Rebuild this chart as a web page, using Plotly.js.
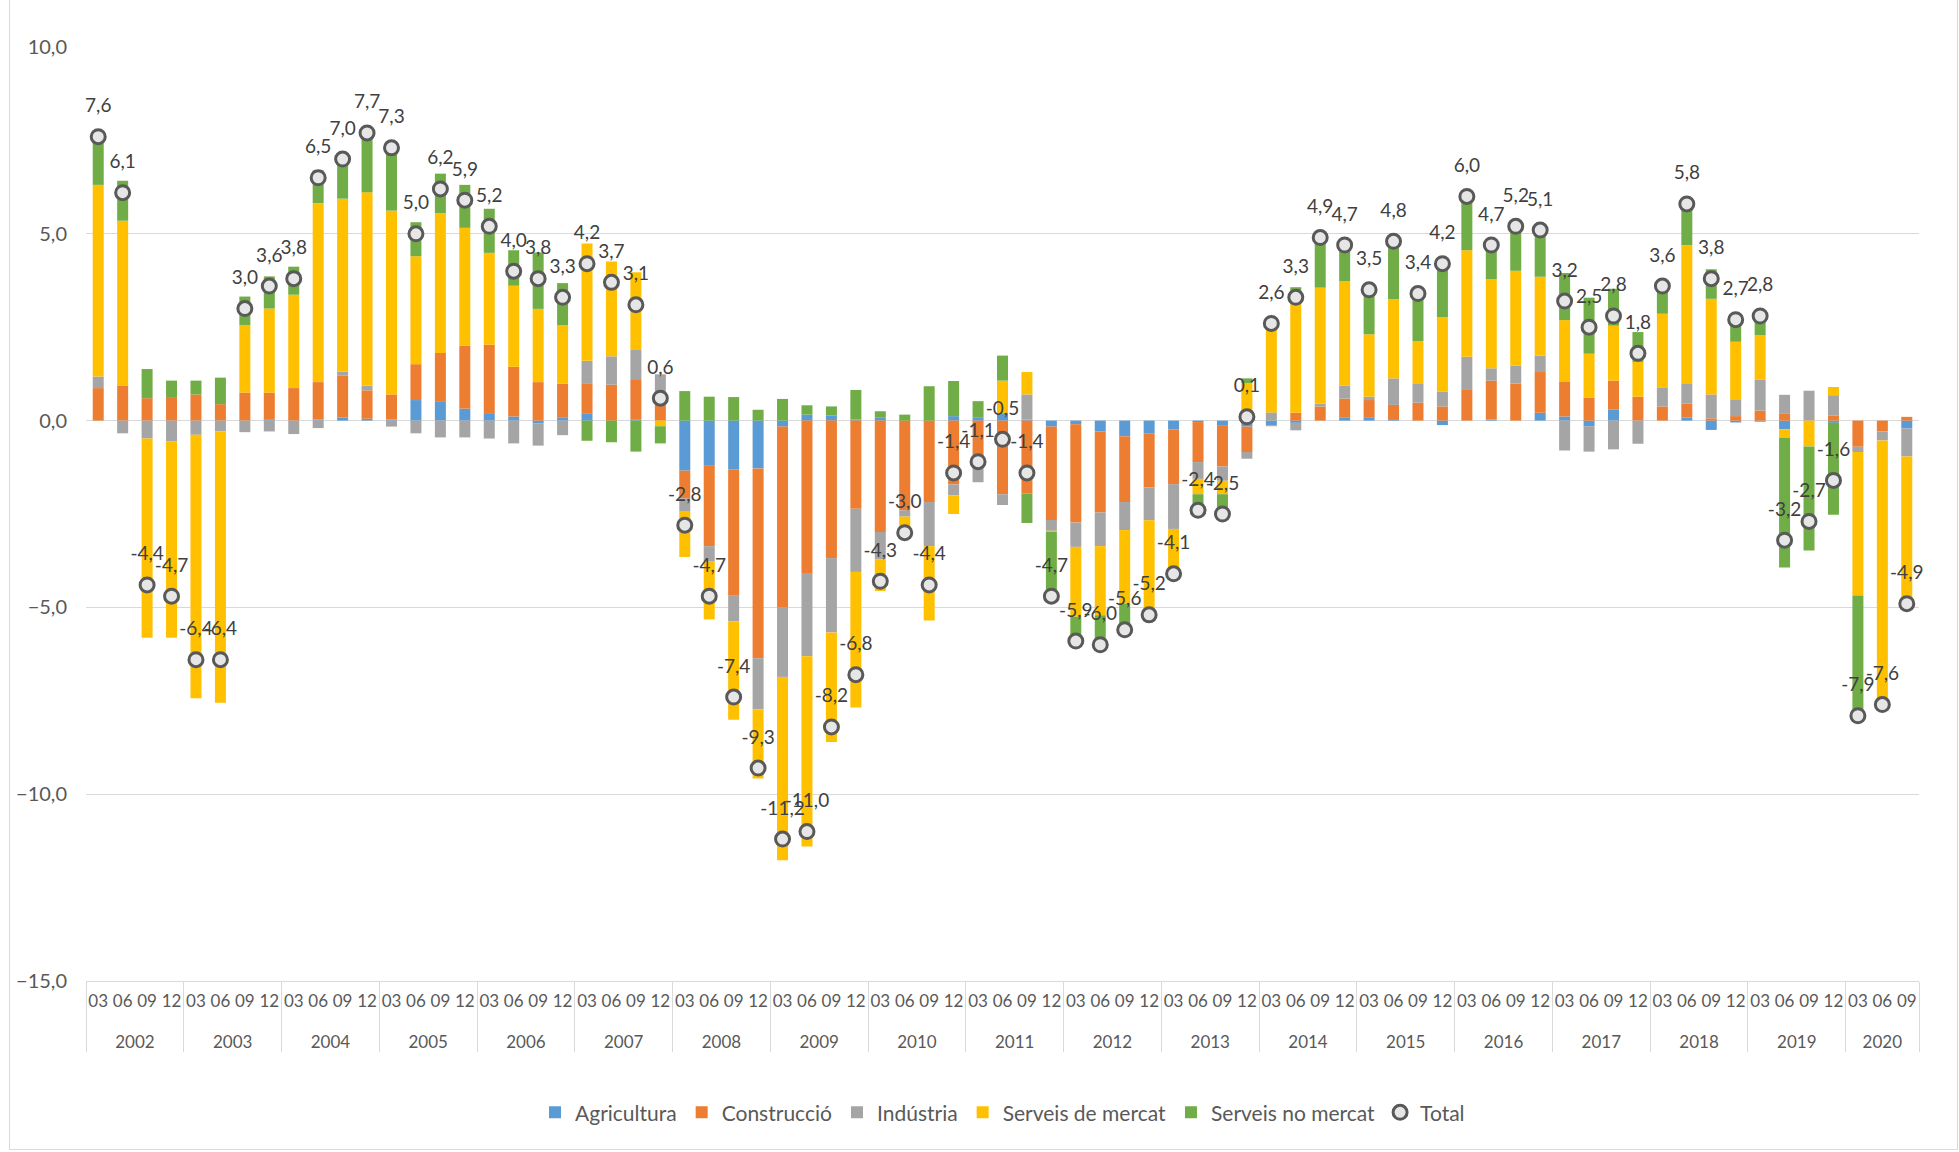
<!DOCTYPE html>
<html>
<head>
<meta charset="utf-8">
<script src="https://cdn.plot.ly/plotly-3.0.1.min.js"></script>
<style>
  html, body { margin: 0; padding: 0; background: #ffffff; }
  #chart { width: 1959px; height: 1152px; }
  #frame { position: absolute; left: 9px; top: -1px; width: 1949px; height: 1151px; border: 1px solid #d9d9d9; pointer-events: none; box-sizing: border-box; }
</style>
</head>
<body>
<div id="chart"></div>
<div id="frame"></div>
<script>
// ---- data (contributions in percentage points) ----
const years = ['2002','2003','2004','2005','2006','2007','2008','2009','2010','2011','2012','2013','2014','2015','2016','2017','2018','2019','2020'];
const quarters = ['03','06','09','12'];

const agricultura = [
  0, 0, 0, 0,
  0, 0, 0, 0.02,
  0, 0.03, 0.08, 0.05,
  0.03, 0.55, 0.52, 0.32,
  0.2, 0.11, -0.07, 0.09,
  0.18, 0, 0.02, 0,
  -1.34, -1.21, -1.31, -1.28,
  -0.16, 0.16, 0.14, 0.03,
  0.09, 0, 0, 0.12,
  0.09, 0.2, 0.03, -0.16,
  -0.1, -0.29, -0.42, -0.35,
  -0.24, -0.04, -0.12, -0.16,
  -0.13, -0.06, 0, 0.09,
  0.09, 0.04, 0, -0.12,
  0, 0.03, 0, 0.21,
  0.11, -0.15, 0.3, 0,
  0, 0.08, -0.25, -0.05,
  -0.03, -0.23, 0, -0.06,
  0, 0, -0.21
];
const construccio = [
  0.87, 0.94, 0.6, 0.63,
  0.70, 0.44, 0.75, 0.73,
  0.87, 1.0, 1.12, 0.76,
  0.67, 0.96, 1.29, 1.69,
  1.83, 1.33, 1.03, 0.9,
  0.82, 0.96, 1.09, 0.46,
  -0.74, -2.15, -3.36, -5.08,
  -4.83, -4.08, -3.68, -2.36,
  -2.98, -2.4, -2.18, -1.71,
  -1.15, -1.97, -1.95, -2.5,
  -2.63, -2.17, -1.76, -1.44,
  -1.46, -1.07, -1.11, -0.68,
  -0.02, 0.21, 0.38, 0.5,
  0.46, 0.38, 0.48, 0.38,
  0.82, 1.04, 0.99, 1.09,
  0.94, 0.61, 0.77, 0.64,
  0.38, 0.38, 0.06, 0.12,
  0.27, 0.18, 0, 0.14,
  -0.7, -0.29, 0.1
];
const industria = [
  0.31, -0.34, -0.48, -0.56,
  -0.38, -0.29, -0.31, -0.29,
  -0.36, -0.2, 0.11, 0.12,
  -0.16, -0.34, -0.45, -0.45,
  -0.48, -0.61, -0.6, -0.39,
  0.6, 0.76, 0.78, 0.78,
  -0.34, -0.40, -0.7, -1.37,
  -1.87, -2.23, -1.99, -1.69,
  -0.73, -0.17, -1.18, -0.29,
  -0.5, -0.29, 0.67, -0.29,
  -0.65, -0.9, -0.75, -0.88,
  -1.2, -0.45, -0.38, -0.18,
  0.22, -0.2, 0.07, 0.35,
  0.09, 0.71, 0.5, 0.4,
  0.89, 0.33, 0.48, 0.44,
  -0.8, -0.68, -0.77, -0.62,
  0.51, 0.54, 0.64, 0.45,
  0.82, 0.51, 0.8, 0.54,
  -0.14, -0.24, -0.75
];
const serveisMercat = [
  5.13, 4.41, -5.33, -5.25,
  -7.05, -7.26, 1.81, 2.25,
  2.5, 4.79, 4.63, 5.18,
  4.92, 2.89, 3.74, 3.15,
  2.46, 2.17, 1.96, 1.56,
  3.14, 2.54, 2.08, -0.15,
  -1.23, -1.56, -2.64, -1.85,
  -4.91, -5.09, -2.93, -3.63,
  -0.85, -0.59, -1.99, -0.5,
  0, 0.87, 0.6, -0.03,
  -1.87, -1.85, -1.97, -2.53,
  -1.15, -0.41, -0.36, 1.0,
  2.5, 3.26, 3.11, 2.79,
  1.67, 2.12, 1.15, 1.99,
  2.85, 2.39, 2.54, 2.11,
  1.64, 1.18, 1.47, 0.93,
  1.97, 3.69, 2.56, 1.54,
  1.2, -0.23, -0.69, 0.22,
  -3.84, -7.07, -4.04
];
const serveisNoMercat = [
  1.29, 1.07, 0.78, 0.44,
  0.37, 0.71, 0.76, 0.86,
  0.75, 0.88, 1.06, 1.59,
  1.84, 0.91, 1.06, 1.15,
  1.18, 0.95, 1.51, 1.13,
  -0.54, -0.58, -0.83, -0.46,
  0.79, 0.64, 0.63, 0.29,
  0.58, 0.25, 0.24, 0.79,
  0.16, 0.16, 0.92, 0.94,
  0.43, 0.67, -0.79, -1.72,
  -0.65, -0.79, -0.7, 0,
  0, -0.45, -0.52, 0.13,
  0, 0.1, 1.34, 0.97,
  1.19, 1.55, 1.27, 1.55,
  1.44, 0.91, 1.19, 1.25,
  1.26, 1.5, 0.99, 0.8,
  0.74, 1.11, 0.79, 0.64,
  0.54, -3.47, -2.79, -2.46,
  -3.22, 0, 0
];
const total = [
  7.6, 6.1, -4.4, -4.7,
  -6.4, -6.4, 3.0, 3.6,
  3.8, 6.5, 7.0, 7.7,
  7.3, 5.0, 6.2, 5.9,
  5.2, 4.0, 3.8, 3.3,
  4.2, 3.7, 3.1, 0.6,
  -2.8, -4.7, -7.4, -9.3,
  -11.2, -11.0, -8.2, -6.8,
  -4.3, -3.0, -4.4, -1.4,
  -1.1, -0.5, -1.4, -4.7,
  -5.9, -6.0, -5.6, -5.2,
  -4.1, -2.4, -2.5, 0.1,
  2.6, 3.3, 4.9, 4.7,
  3.5, 4.8, 3.4, 4.2,
  6.0, 4.7, 5.2, 5.1,
  3.2, 2.5, 2.8, 1.8,
  3.6, 5.8, 3.8, 2.7,
  2.8, -3.2, -2.7, -1.6,
  -7.9, -7.6, -4.9
];

// ---- build multicategory x (year, quarter) ----
// (leading <br> only pushes the year row a line lower, as in the original)
const xYear = [], xQuarter = [];
for (const y of years) {
  for (const q of quarters) {
    if (xYear.length < total.length) { xYear.push('<br>' + y); xQuarter.push(q); }
  }
}
const xCats = [xYear, xQuarter];

const FONT = 'Lato, "Open Sans", "Noto Sans", sans-serif';

function barTrace(name, vals, color) {
  return {
    type: 'bar', name: name, x: xCats, y: vals,
    marker: { color: color, line: { width: 0 } },
    hoverinfo: 'name+y'
  };
}

const traces = [
  barTrace('Agricultura', agricultura, '#5B9BD5'),
  barTrace('Construcció', construccio, '#ED7D31'),
  barTrace('Indústria', industria, '#A5A5A5'),
  barTrace('Serveis de mercat', serveisMercat, '#FFC000'),
  barTrace('Serveis no mercat', serveisNoMercat, '#70AD47'),
  {
    type: 'scatter', mode: 'markers', name: 'Total', x: xCats, y: total,
    cliponaxis: false,
    marker: { symbol: 'circle', size: 14, color: '#E7E6E6', line: { color: '#595959', width: 3 } }
  },
  {
    type: 'scatter', mode: 'markers+text', x: xCats, y: total, showlegend: false,
    cliponaxis: false,
    marker: { size: 30, color: 'rgba(0,0,0,0)', line: { width: 0 } },
    text: total.map(v => v.toFixed(1).replace('.', ',')),
    textposition: 'top center',
    textfont: { family: FONT, size: 19, color: '#404040' },
    hoverinfo: 'skip'
  }
];

const layout = {
  width: 1959, height: 1152,
  margin: { l: 86, r: 40, t: 47, b: 171 },
  paper_bgcolor: '#ffffff', plot_bgcolor: '#ffffff',
  barmode: 'relative',
  bargap: 0.55,
  separators: ',.',
  font: { family: FONT, size: 18, color: '#595959' },
  showlegend: true,
  legend: {
    orientation: 'h', x: 0.5, xanchor: 'center', y: -0.141, yanchor: 'middle',
    font: { family: FONT, size: 21, color: '#595959' },
    itemwidth: 30, traceorder: 'normal'
  },
  xaxis: {
    type: 'multicategory',
    range: [-0.5, total.length - 0.5],
    autorange: false,
    tickmode: 'linear', tick0: 0, dtick: 1,
    showgrid: false,
    showline: true, linecolor: '#d9d9d9', linewidth: 1,
    showdividers: true, dividercolor: '#d9d9d9', dividerwidth: 1,
    tickfont: { family: FONT, size: 17, color: '#595959' },
    tickangle: 0,
    ticks: '', ticklabelstandoff: 5
  },
  yaxis: {
    range: [-15, 10], dtick: 5, tick0: 0,
    tickformat: '.1f',
    showgrid: true, gridcolor: '#d9d9d9', gridwidth: 1,
    zeroline: false, showline: false,
    tickfont: { family: FONT, size: 20, color: '#595959' },
    ticks: '', ticklabelstandoff: 18
  }
};

Plotly.newPlot('chart', traces, layout, { displayModeBar: false, staticPlot: true });
</script>
</body>
</html>
